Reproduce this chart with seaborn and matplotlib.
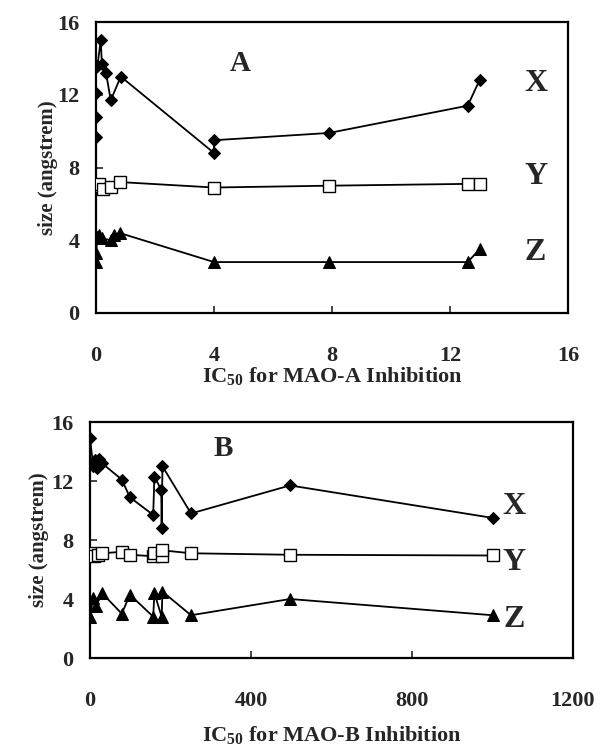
import matplotlib
matplotlib.use("Agg")
import matplotlib.pyplot as plt
import seaborn as sns

# ---------------- data: panel A (MAO-A) ----------------
a_x_x = [0.0, 0.0, 0.0, 0.0, 0.05, 0.16, 0.2, 0.34, 0.5, 0.84, 4.0, 4.0, 7.9, 12.6, 13.0]
a_x_y = [9.7, 10.8, 12.1, 13.5, 13.6, 15.0, 13.7, 13.2, 11.7, 13.0, 8.8, 9.5, 9.9, 11.4, 12.8]

a_y_x = [0.0, 0.1, 0.24, 0.5, 0.8, 4.0, 7.9, 12.6, 13.0]
a_y_y = [7.0, 7.1, 6.8, 6.95, 7.2, 6.9, 7.0, 7.1, 7.1]

a_z_x = [0.0, 0.0, 0.05, 0.1, 0.2, 0.5, 0.6, 0.8, 4.0, 7.9, 12.6, 13.0]
a_z_y = [2.8, 3.3, 4.2, 4.3, 4.1, 4.0, 4.3, 4.4, 2.8, 2.8, 2.8, 3.5]

# ---------------- data: panel B (MAO-B) ----------------
b_x_x = [0, 8, 12, 18, 22, 30, 79, 99, 157, 160, 177, 178, 180, 251, 497, 1000]
b_x_y = [14.9, 13.0, 13.4, 12.9, 13.5, 13.2, 12.1, 10.9, 9.7, 12.3, 11.4, 8.8, 13.0, 9.8, 11.7, 9.5]

b_y_x = [0, 10, 20, 30, 79, 99, 157, 160, 178, 180, 251, 497, 1000]
b_y_y = [7.1, 6.9, 7.0, 7.1, 7.2, 7.0, 6.9, 7.1, 6.9, 7.3, 7.1, 7.0, 6.95]

b_z_x = [0, 8, 15, 30, 79, 99, 157, 160, 178, 180, 251, 497, 1000]
b_z_y = [2.8, 4.1, 3.5, 4.4, 3.0, 4.3, 2.8, 4.4, 2.8, 4.5, 2.9, 4.0, 2.9]

a_xticks = [0, 4, 8, 12, 16]
b_xticks = [0, 400, 800, 1200]
yticks = [0, 4, 8, 12, 16]

sns.set_style("ticks")
plt.rcParams['font.family'] = ['Liberation Serif', 'DejaVu Serif']
plt.rcParams['font.weight'] = 'bold'
plt.rcParams['mathtext.fontset'] = 'custom'
plt.rcParams['mathtext.rm'] = 'Liberation Serif:bold'
plt.rcParams['mathtext.bf'] = 'Liberation Serif:bold'
plt.rcParams['mathtext.default'] = 'bf'

fig = plt.figure(figsize=(6.0, 7.52), dpi=100)
axA = fig.add_axes([0.16, 0.5838, 0.7867, 0.3869])
axB = fig.add_axes([0.15, 0.125, 0.805, 0.3138])

def draw(ax, xx, xy, yx, yy, zx, zy):
    sns.lineplot(x=xx, y=xy, ax=ax, sort=False, estimator=None, color='black',
                 lw=1.3, marker='D', markersize=6.5, markerfacecolor='black',
                 markeredgecolor='black', zorder=3)
    sns.lineplot(x=yx, y=yy, ax=ax, sort=False, estimator=None, color='black',
                 lw=1.3, marker='s', markersize=8, markerfacecolor='white',
                 markeredgecolor='black', markeredgewidth=1.0, zorder=3)
    sns.lineplot(x=zx, y=zy, ax=ax, sort=False, estimator=None, color='black',
                 lw=1.3, marker='^', markersize=8, markerfacecolor='black',
                 markeredgecolor='black', zorder=3)

draw(axA, a_x_x, a_x_y, a_y_x, a_y_y, a_z_x, a_z_y)
draw(axB, b_x_x, b_x_y, b_y_x, b_y_y, b_z_x, b_z_y)

for ax, xt, xl in [(axA, a_xticks, 'IC$_{50}$ for MAO-A Inhibition'),
                   (axB, b_xticks, 'IC$_{50}$ for MAO-B Inhibition')]:
    ax.set_xlim(xt[0], xt[-1])
    ax.set_ylim(0, 16)
    ax.set_xticks(xt)
    ax.set_yticks(yticks)
    ax.set_xticklabels([str(t) for t in xt], fontsize=16, fontweight='bold')
    ax.set_yticklabels([str(t) for t in yticks], fontsize=16, fontweight='bold')
    ax.tick_params(axis='x', direction='in', length=5, width=1.2, pad=24, top=False)
    ax.tick_params(axis='y', direction='in', length=5, width=1.2, pad=12, right=False)
    for s in ax.spines.values():
        s.set_visible(True)
        s.set_linewidth(1.6)
        s.set_color('black')
    ax.set_ylabel('size (angstrem)', fontsize=15, fontweight='bold')
    ax.set_xlabel(xl, fontsize=16, fontweight='bold')

axA.yaxis.set_label_coords(-0.08, 0.5)
axB.yaxis.set_label_coords(-0.085, 0.5)
axA.xaxis.set_label_coords(0.5, -0.18)
axB.xaxis.set_label_coords(0.5, -0.28)

axA.text(4.9, 13.7, 'A', fontsize=21, fontweight='bold', ha='center', va='center')
axA.text(14.9, 12.6, 'X', fontsize=23, fontweight='bold', ha='center', va='center')
axA.text(14.9, 7.5, 'Y', fontsize=23, fontweight='bold', ha='center', va='center')
axA.text(14.9, 3.3, 'Z', fontsize=23, fontweight='bold', ha='center', va='center')

axB.text(330, 14.2, 'B', fontsize=21, fontweight='bold', ha='center', va='center')
axB.text(1053, 10.3, 'X', fontsize=23, fontweight='bold', ha='center', va='center')
axB.text(1053, 6.5, 'Y', fontsize=23, fontweight='bold', ha='center', va='center')
axB.text(1053, 2.6, 'Z', fontsize=23, fontweight='bold', ha='center', va='center')

fig.savefig('out.png', dpi=100)
